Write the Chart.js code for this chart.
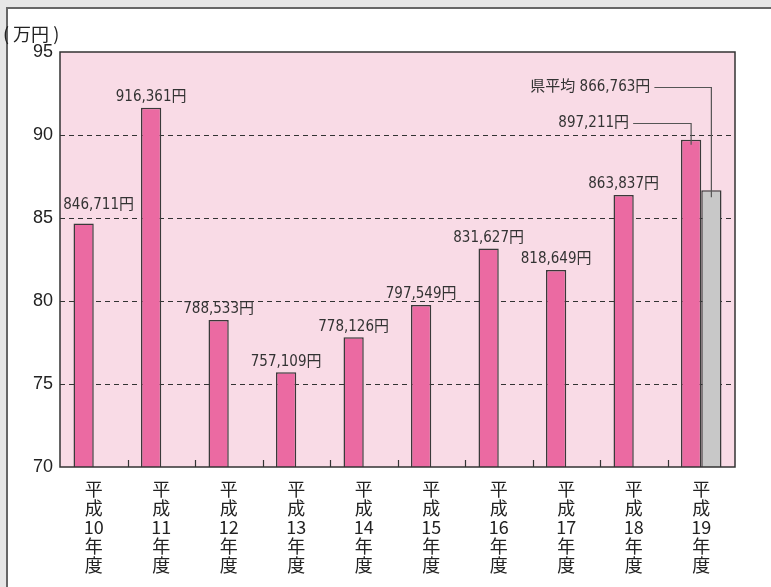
<!DOCTYPE html>
<html>
<head>
<meta charset="utf-8">
<script src="https://cdn.jsdelivr.net/npm/chart.js@4.4.1/dist/chart.umd.min.js"></script>
<style>
  html, body { margin: 0; padding: 0; background: #e6e6e6; }
  #wrap { width: 771px; height: 587px; }
</style>
</head>
<body>
<div id="wrap"><canvas id="chart" width="771" height="587"></canvas></div>
<script>
const years = ['10', '11', '12', '13', '14', '15', '16', '17', '18', '19'];
// 万円
const cityValues = [84.6711, 91.6361, 78.8533, 75.7109, 77.8126, 79.7549, 83.1627, 81.8649, 86.3837, 89.7211];
const prefValues = [null, null, null, null, null, null, null, null, null, 86.6763];
const cityLabels = ['846,711円', '916,361円', '788,533円', '757,109円', '778,126円', '797,549円', '831,627円', '818,649円', '863,837円', '897,211円'];
const prefLabel = '県平均 866,763円';
const yTicks = [70, 75, 80, 85, 90, 95];

const labelFont = '15px "DejaVu Sans Condensed", "Liberation Sans Narrow", "Noto Sans CJK JP", sans-serif';

const panelPlugin = {
    id: 'panel',
    beforeDraw(chart) {
        const ctx = chart.ctx;
        const a = chart.chartArea;
        ctx.save();
        ctx.fillStyle = '#e6e6e6';
        ctx.fillRect(0, 0, chart.width, chart.height);
        ctx.fillStyle = '#ffffff';
        ctx.fillRect(7, 8, chart.width, chart.height);
        ctx.strokeStyle = '#666';
        ctx.lineWidth = 2;
        ctx.beginPath();
        ctx.moveTo(7, chart.height);
        ctx.lineTo(7, 8);
        ctx.lineTo(chart.width, 8);
        ctx.stroke();
        // plot background
        ctx.fillStyle = '#f9dbe6';
        ctx.fillRect(a.left, a.top, a.right - a.left, a.bottom - a.top);
        // unit
        ctx.fillStyle = '#222';
        ctx.font = '18px "Noto Sans CJK JP", sans-serif';
        ctx.textBaseline = 'middle';
        ctx.textAlign = 'left';
        ctx.fillText('( 万円 )', 3, 34);
        ctx.restore();
    },
    afterDatasetsDraw(chart) {
        const ctx = chart.ctx;
        const a = chart.chartArea;
        const x = chart.scales.x;
        const y = chart.scales.y;
        ctx.save();
        // frame
        ctx.strokeStyle = '#333';
        ctx.lineWidth = 1.5;
        ctx.strokeRect(a.left, a.top, a.right - a.left, a.bottom - a.top);
        // small ticks between categories
        ctx.lineWidth = 1.2;
        for (let i = 1; i < years.length; i++) {
            const px = Math.round((x.getPixelForValue(i - 1) + x.getPixelForValue(i)) / 2) + 0.5;
            ctx.beginPath();
            ctx.moveTo(px, a.bottom);
            ctx.lineTo(px, a.bottom - 7);
            ctx.stroke();
        }
        // value labels
        ctx.fillStyle = '#333';
        ctx.font = labelFont;
        ctx.textAlign = 'center';
        ctx.textBaseline = 'bottom';
        const meta0 = chart.getDatasetMeta(0);
        for (let i = 0; i < cityValues.length - 1; i++) {
            const bar = meta0.data[i];
            let dx = 0, dy = 0;
            if (i === 0) { dx = 15; dy = -8; }
            ctx.fillText(cityLabels[i], bar.x + dx, bar.y - 3 + dy);
        }
        // callouts for last year
        const last = cityValues.length - 1;
        const barA = meta0.data[last];
        const barB = chart.getDatasetMeta(1).data[last];
        ctx.strokeStyle = '#555';
        ctx.lineWidth = 1.2;
        ctx.textAlign = 'right';
        ctx.textBaseline = 'middle';
        const yA = Math.round(y.getPixelForValue(90.72)) + 0.5;
        const yB = Math.round(y.getPixelForValue(92.9)) + 0.5;
        ctx.fillText(cityLabels[last], barA.x - 62, yA);
        ctx.beginPath();
        ctx.moveTo(barA.x - 58, yA);
        ctx.lineTo(barA.x, yA);
        ctx.lineTo(barA.x, barA.y + 5);
        ctx.stroke();
        ctx.fillText(prefLabel, barB.x - 61, yB);
        ctx.beginPath();
        ctx.moveTo(barB.x - 57, yB);
        ctx.lineTo(barB.x, yB);
        ctx.lineTo(barB.x, barB.y + 7);
        ctx.stroke();
        ctx.restore();
    }
};

new Chart(document.getElementById('chart'), {
    type: 'bar',
    data: {
        labels: years.map(n => ['平', '成', n, '年', '度']),
        datasets: [{
            data: cityValues,
            backgroundColor: '#eb6aa2',
            borderColor: '#3a3a3a',
            borderWidth: 1.5,
            borderSkipped: 'bottom',
            categoryPercentage: 0.6,
            barPercentage: 1
        }, {
            data: prefValues,
            backgroundColor: '#c8c8c8',
            borderColor: '#3a3a3a',
            borderWidth: 1.5,
            borderSkipped: 'bottom',
            categoryPercentage: 0.6,
            barPercentage: 1
        }]
    },
    options: {
        responsive: false,
        animation: false,
        layout: { padding: { top: 52, right: 36, left: 0, bottom: 0 } },
        plugins: {
            legend: { display: false },
            tooltip: { enabled: false }
        },
        scales: {
            x: {
                grid: { display: false },
                border: { display: false },
                ticks: {
                    color: '#222',
                    padding: 5,
                    maxRotation: 0,
                    autoSkip: false,
                    font: { family: '"Noto Sans CJK JP", sans-serif', size: 18, lineHeight: 1.05 }
                },
                afterFit(scale) { scale.height = 120; }
            },
            y: {
                min: 70,
                max: 95,
                afterBuildTicks(scale) { scale.ticks = yTicks.map(v => ({ value: v })); },
                grid: {
                    color: ctx => (ctx.tick && (ctx.tick.value === 70 || ctx.tick.value === 95)) ? 'rgba(0,0,0,0)' : '#333',
                    lineWidth: 1,
                    drawTicks: false
                },
                border: { display: false, dash: [5, 4] },
                ticks: {
                    color: '#222',
                    padding: 7,
                    font: { family: '"Liberation Sans", Arial, sans-serif', size: 18 }
                },
                afterFit(scale) { scale.width = 60; }
            }
        }
    },
    plugins: [panelPlugin]
});
</script>
</body>
</html>
